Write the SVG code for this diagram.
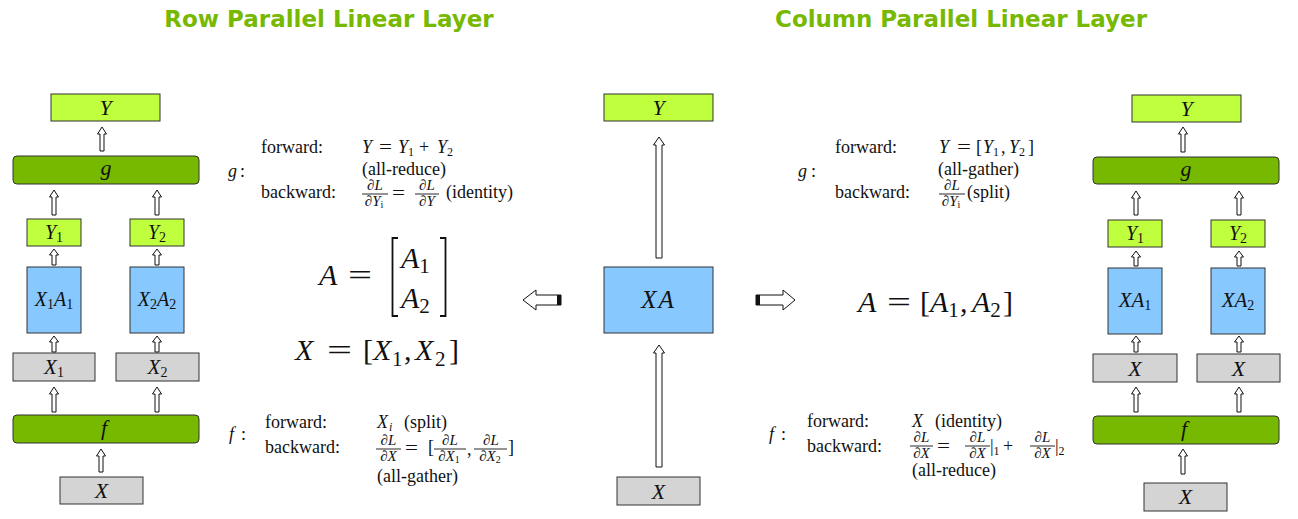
<svg xmlns="http://www.w3.org/2000/svg" width="1298" height="519" viewBox="0 0 1298 519">
<style>
.title{font-family:"DejaVu Sans",Verdana,sans-serif;font-weight:bold;font-size:23px;fill:#76b900;text-anchor:middle}
.lg{fill:#c0ff3e;stroke:#333;stroke-width:1}
.dg{fill:#76b900;stroke:#333;stroke-width:1}
.bl{fill:#87c8ff;stroke:#333;stroke-width:1}
.gr{fill:#d4d4d4;stroke:#333;stroke-width:1}
.m{font-family:"Liberation Serif","DejaVu Serif","Noto Serif",serif;font-style:italic;fill:#111}
.r{font-family:"Liberation Serif","DejaVu Serif","Noto Serif",serif;font-style:normal;fill:#111}
.lbl{text-anchor:middle}
.sub{font-style:normal}
.fr{font-family:"Liberation Serif","DejaVu Serif","Noto Serif",serif;font-style:italic;font-size:15px;text-anchor:middle;fill:#111}
.fl{stroke:#111;stroke-width:0.9}
.t18{font-size:18px}
.arrow{fill:#fff;stroke:#111;stroke-width:1;stroke-linejoin:miter}
</style>

<text class="title" x="329" y="27">Row Parallel Linear Layer</text>
<text class="title" x="961" y="27">Column Parallel Linear Layer</text>

<g id="connectors">
<path class="arrow" d="M102 127 L106.5 134 L104 134 L104 151 L100 151 L100 134 L97.5 134 Z"/>
<path class="arrow" d="M54 190 L58.5 197 L56 197 L56 215 L52 215 L52 197 L49.5 197 Z"/>
<path class="arrow" d="M157 190 L161.5 197 L159 197 L159 215 L155 215 L155 197 L152.5 197 Z"/>
<path class="arrow" d="M54 249 L58.5 255 L56 255 L56 265 L52 265 L52 255 L49.5 255 Z"/>
<path class="arrow" d="M157 249 L161.5 255 L159 255 L159 265 L155 265 L155 255 L152.5 255 Z"/>
<path class="arrow" d="M54 336 L58.5 342 L56 342 L56 352 L52 352 L52 342 L49.5 342 Z"/>
<path class="arrow" d="M157 336 L161.5 342 L159 342 L159 352 L155 352 L155 342 L152.5 342 Z"/>
<path class="arrow" d="M54 387 L58.5 394 L56 394 L56 412 L52 412 L52 394 L49.5 394 Z"/>
<path class="arrow" d="M157 387 L161.5 394 L159 394 L159 412 L155 412 L155 394 L152.5 394 Z"/>
<path class="arrow" d="M101 449 L105.5 456 L103 456 L103 472 L99 472 L99 456 L96.5 456 Z"/>

<path class="arrow" d="M659 137 L664.5 145 L662 145 L662 258 L656 258 L656 145 L653.5 145 Z"/>
<path class="arrow" d="M659 345 L664.5 353 L662 353 L662 467 L656 467 L656 353 L653.5 353 Z"/>
<path class="arrow" d="M523 300 L536 290 L536 295 L561 295 L561 305 L536 305 L536 310 Z"/>
<rect x="557" y="295" width="4" height="10" fill="#111"/>
<path class="arrow" d="M795 300 L783 290 L783 295 L756 295 L756 305 L783 305 L783 310 Z"/>
<rect x="756" y="295" width="4" height="10" fill="#111"/>

<path class="arrow" d="M1183 127 L1187.5 134 L1185 134 L1185 152 L1181 152 L1181 134 L1178.5 134 Z"/>
<path class="arrow" d="M1136 191 L1140.5 198 L1138 198 L1138 215 L1134 215 L1134 198 L1131.5 198 Z"/>
<path class="arrow" d="M1239 191 L1243.5 198 L1241 198 L1241 215 L1237 215 L1237 198 L1234.5 198 Z"/>
<path class="arrow" d="M1136 251 L1140.5 257 L1138 257 L1138 266 L1134 266 L1134 257 L1131.5 257 Z"/>
<path class="arrow" d="M1239 251 L1243.5 257 L1241 257 L1241 266 L1237 266 L1237 257 L1234.5 257 Z"/>
<path class="arrow" d="M1136 336 L1140.5 342 L1138 342 L1138 352 L1134 352 L1134 342 L1131.5 342 Z"/>
<path class="arrow" d="M1239 336 L1243.5 342 L1241 342 L1241 352 L1237 352 L1237 342 L1234.5 342 Z"/>
<path class="arrow" d="M1136 387 L1140.5 394 L1138 394 L1138 412 L1134 412 L1134 394 L1131.5 394 Z"/>
<path class="arrow" d="M1239 387 L1243.5 394 L1241 394 L1241 412 L1237 412 L1237 394 L1234.5 394 Z"/>
<path class="arrow" d="M1183 449 L1187.5 456 L1185 456 L1185 474 L1181 474 L1181 456 L1178.5 456 Z"/>
</g>

<g id="row-Y"><rect class="lg" x="51" y="94" width="109" height="27"/><text class="m lbl" x="105.5" y="115" font-size="22">Y</text></g>
<g id="row-g"><rect class="dg" x="13" y="156" width="186" height="28" rx="4"/><text class="m lbl" x="106" y="175" font-size="22">g</text></g>
<g id="row-Y1"><rect class="lg" x="27" y="219" width="54" height="27"/><text class="m lbl" x="54" y="239" font-size="20">Y<tspan class="sub" font-size="14" dy="3">1</tspan></text></g>
<g id="row-Y2"><rect class="lg" x="130" y="219" width="54" height="27"/><text class="m lbl" x="157" y="239" font-size="20">Y<tspan class="sub" font-size="14" dy="3">2</tspan></text></g>
<g id="row-X1A1"><rect class="bl" x="27" y="267" width="54" height="66"/><text class="m lbl" x="54" y="306" font-size="20">X<tspan class="sub" font-size="14" dy="3">1</tspan><tspan dy="-3">A</tspan><tspan class="sub" font-size="14" dy="3">1</tspan></text></g>
<g id="row-X2A2"><rect class="bl" x="130" y="267" width="54" height="66"/><text class="m lbl" x="157" y="306" font-size="20">X<tspan class="sub" font-size="14" dy="3">2</tspan><tspan dy="-3">A</tspan><tspan class="sub" font-size="14" dy="3">2</tspan></text></g>
<g id="row-X1"><rect class="gr" x="13" y="353" width="82" height="28"/><text class="m lbl" x="54" y="374" font-size="21">X<tspan class="sub" font-size="14" dy="3">1</tspan></text></g>
<g id="row-X2"><rect class="gr" x="116" y="353" width="83" height="28"/><text class="m lbl" x="157.5" y="374" font-size="21">X<tspan class="sub" font-size="14" dy="3">2</tspan></text></g>
<g id="row-f"><rect class="dg" x="13" y="415" width="186" height="28" rx="4"/><text class="m lbl" x="104" y="435" font-size="22">f</text></g>
<g id="row-X"><rect class="gr" x="60" y="477" width="83" height="27"/><text class="m lbl" x="101.5" y="498" font-size="22">X</text></g>

<g id="row-g-formula">
<text class="m t18" x="228" y="177">g</text><text class="r t18" x="240" y="177">:</text>
<text class="r t18" x="261" y="153">forward:</text>
<text class="m t18" x="362" y="153">Y</text>
<text class="r t18" x="379" y="153" textLength="13" lengthAdjust="spacingAndGlyphs">=</text>
<text class="m t18" x="398" y="153">Y<tspan class="sub" font-size="12" dy="3">1</tspan></text>
<text class="r t18" x="419" y="153">+</text>
<text class="m t18" x="437" y="153">Y<tspan class="sub" font-size="12" dy="3">2</tspan></text>
<text class="r t18" x="362" y="175">(all-reduce)</text>
<text class="r t18" x="261" y="198">backward:</text>
<text class="fr" x="375" y="190">∂L</text><line class="fl" x1="362" y1="194" x2="388" y2="194"/><text class="fr" x="374" y="206">∂Y<tspan class="sub" font-size="10" font-style="italic" dy="2">i</tspan></text>
<text class="r t18" x="392" y="199" textLength="13" lengthAdjust="spacingAndGlyphs">=</text>
<text class="fr" x="427" y="190">∂L</text><line class="fl" x1="415" y1="194" x2="439" y2="194"/><text class="fr" x="427" y="206">∂Y</text>
<text class="r t18" x="446" y="198">(identity)</text>
</g>

<g id="row-matrices">
<text class="m" x="319" y="285" font-size="30">A</text>
<text class="r" x="348" y="285" font-size="30" textLength="24" lengthAdjust="spacingAndGlyphs">=</text>
<path d="M398 238 L392.5 238 L392.5 316 L398 316" fill="none" stroke="#111" stroke-width="1.8"/>
<text class="m" x="401" y="268" font-size="30">A<tspan class="sub" font-size="21" dy="5">1</tspan></text>
<text class="m" x="401" y="308" font-size="30">A<tspan class="sub" font-size="21" dy="5">2</tspan></text>
<path d="M440 238 L445.5 238 L445.5 316 L440 316" fill="none" stroke="#111" stroke-width="1.8"/>
<text class="m" x="295" y="360" font-size="30">X</text>
<text class="r" x="327" y="360" font-size="30" textLength="25" lengthAdjust="spacingAndGlyphs">=</text>
<text class="r" x="363" y="360" font-size="30">[</text>
<text class="m" x="373" y="360" font-size="30">X</text><text class="r" x="392" y="366" font-size="21">1</text>
<text class="r" x="404" y="360" font-size="30">,</text>
<text class="m" x="415" y="360" font-size="30">X</text><text class="r" x="435" y="366" font-size="21">2</text>
<text class="r" x="449" y="360" font-size="30">]</text>
</g>

<g id="row-f-formula">
<text class="m t18" x="229" y="440">f</text><text class="r t18" x="241" y="440">:</text>
<text class="r t18" x="265" y="428">forward:</text>
<text class="m t18" x="377" y="428">X</text><text class="m" x="389" y="431" font-size="12">i</text>
<text class="r t18" x="404" y="428">(split)</text>
<text class="r t18" x="265" y="453">backward:</text>
<text class="fr" x="388.5" y="445">∂L</text><line class="fl" x1="376" y1="449" x2="401" y2="449"/><text class="fr" x="388.5" y="461">∂X</text>
<text class="r t18" x="405" y="454" textLength="13" lengthAdjust="spacingAndGlyphs">=</text>
<text class="r t18" x="428" y="453">[</text>
<text class="fr" x="450" y="445">∂L</text><line class="fl" x1="434" y1="449" x2="466" y2="449"/><text class="fr" x="449" y="461">∂X<tspan class="sub" font-size="10" dy="2">1</tspan></text>
<text class="r t18" x="467" y="455">,</text>
<text class="fr" x="491" y="445">∂L</text><line class="fl" x1="474" y1="449" x2="507" y2="449"/><text class="fr" x="490" y="461">∂X<tspan class="sub" font-size="10" dy="2">2</tspan></text>
<text class="r t18" x="508" y="453">]</text>
<text class="r t18" x="377" y="482">(all-gather)</text>
</g>

<g id="mid-Y"><rect class="lg" x="604" y="94" width="109" height="27"/><text class="m lbl" x="658.5" y="115" font-size="22">Y</text></g>
<g id="mid-XA"><rect class="bl" x="604" y="267" width="109" height="66"/><text class="m lbl" x="658.5" y="308" font-size="25" letter-spacing="2">XA</text></g>
<g id="mid-X"><rect class="gr" x="617" y="477" width="83" height="28"/><text class="m lbl" x="658.5" y="499" font-size="22">X</text></g>

<g id="col-g-formula">
<text class="m t18" x="798" y="177">g</text><text class="r t18" x="811" y="177">:</text>
<text class="r t18" x="835" y="153">forward:</text>
<text class="m t18" x="939" y="153">Y</text>
<text class="r t18" x="957" y="153" textLength="14" lengthAdjust="spacingAndGlyphs">=</text>
<text class="r t18" x="976" y="153">[</text>
<text class="m t18" x="983" y="153">Y<tspan class="sub" font-size="12" dy="3">1</tspan></text>
<text class="r t18" x="1001" y="153">,</text>
<text class="m t18" x="1009" y="153">Y<tspan class="sub" font-size="12" dy="3">2</tspan></text>
<text class="r t18" x="1028" y="153">]</text>
<text class="r t18" x="938" y="175">(all-gather)</text>
<text class="r t18" x="835" y="198">backward:</text>
<text class="fr" x="952" y="190">∂L</text><line class="fl" x1="939" y1="194" x2="965" y2="194"/><text class="fr" x="951" y="206">∂Y<tspan class="sub" font-size="10" font-style="italic" dy="2">i</tspan></text>
<text class="r t18" x="967" y="198">(split)</text>
</g>

<g id="col-matrix">
<text class="m" x="858" y="312" font-size="30">A</text>
<text class="r" x="887" y="312" font-size="30" textLength="24" lengthAdjust="spacingAndGlyphs">=</text>
<text class="r" x="920" y="312" font-size="30">[</text>
<text class="m" x="930" y="312" font-size="30">A<tspan class="sub" font-size="21" dy="5">1</tspan></text>
<text class="r" x="960" y="312" font-size="30">,</text>
<text class="m" x="972" y="312" font-size="30">A<tspan class="sub" font-size="21" dy="5">2</tspan></text>
<text class="r" x="1003" y="312" font-size="30">]</text>
</g>

<g id="col-f-formula">
<text class="m t18" x="769" y="440">f</text><text class="r t18" x="781" y="440">:</text>
<text class="r t18" x="807" y="427">forward:</text>
<text class="m t18" x="912" y="427">X</text>
<text class="r t18" x="935" y="427">(identity)</text>
<text class="r t18" x="807" y="452">backward:</text>
<text class="fr" x="921.5" y="442">∂L</text><line class="fl" x1="910" y1="446" x2="933" y2="446"/><text class="fr" x="921.5" y="458">∂X</text>
<text class="r t18" x="937" y="452" textLength="13" lengthAdjust="spacingAndGlyphs">=</text>
<text class="fr" x="977.5" y="442">∂L</text><line class="fl" x1="965" y1="446" x2="990" y2="446"/><text class="fr" x="977.5" y="458">∂X</text>
<text class="r t18" x="990" y="452">|<tspan font-size="12" dy="3">1</tspan></text>
<text class="r t18" x="1003" y="452">+</text>
<text class="fr" x="1042.5" y="442">∂L</text><line class="fl" x1="1030" y1="446" x2="1055" y2="446"/><text class="fr" x="1042.5" y="458">∂X</text>
<text class="r t18" x="1055" y="452">|<tspan font-size="12" dy="3">2</tspan></text>
<text class="r t18" x="912" y="476">(all-reduce)</text>
</g>

<g id="col-Y"><rect class="lg" x="1132" y="95" width="109" height="27"/><text class="m lbl" x="1186.5" y="116" font-size="22">Y</text></g>
<g id="col-g"><rect class="dg" x="1093" y="157" width="186" height="27" rx="4"/><text class="m lbl" x="1186" y="176" font-size="22">g</text></g>
<g id="col-Y1"><rect class="lg" x="1108" y="220" width="54" height="27"/><text class="m lbl" x="1135" y="240" font-size="20">Y<tspan class="sub" font-size="14" dy="3">1</tspan></text></g>
<g id="col-Y2"><rect class="lg" x="1211" y="220" width="54" height="27"/><text class="m lbl" x="1238" y="240" font-size="20">Y<tspan class="sub" font-size="14" dy="3">2</tspan></text></g>
<g id="col-XA1"><rect class="bl" x="1108" y="268" width="54" height="66"/><text class="m lbl" x="1135" y="307" font-size="21">XA<tspan class="sub" font-size="14" dy="3">1</tspan></text></g>
<g id="col-XA2"><rect class="bl" x="1211" y="268" width="54" height="66"/><text class="m lbl" x="1238" y="307" font-size="21">XA<tspan class="sub" font-size="14" dy="3">2</tspan></text></g>
<g id="col-X1"><rect class="gr" x="1093" y="354" width="84" height="28"/><text class="m lbl" x="1135" y="376" font-size="22">X</text></g>
<g id="col-X2"><rect class="gr" x="1197" y="354" width="83" height="28"/><text class="m lbl" x="1238.5" y="376" font-size="22">X</text></g>
<g id="col-f"><rect class="dg" x="1093" y="416" width="186" height="28" rx="4"/><text class="m lbl" x="1184" y="436" font-size="22">f</text></g>
<g id="col-X"><rect class="gr" x="1144" y="483" width="83" height="28"/><text class="m lbl" x="1185.5" y="504" font-size="22">X</text></g>
</svg>
